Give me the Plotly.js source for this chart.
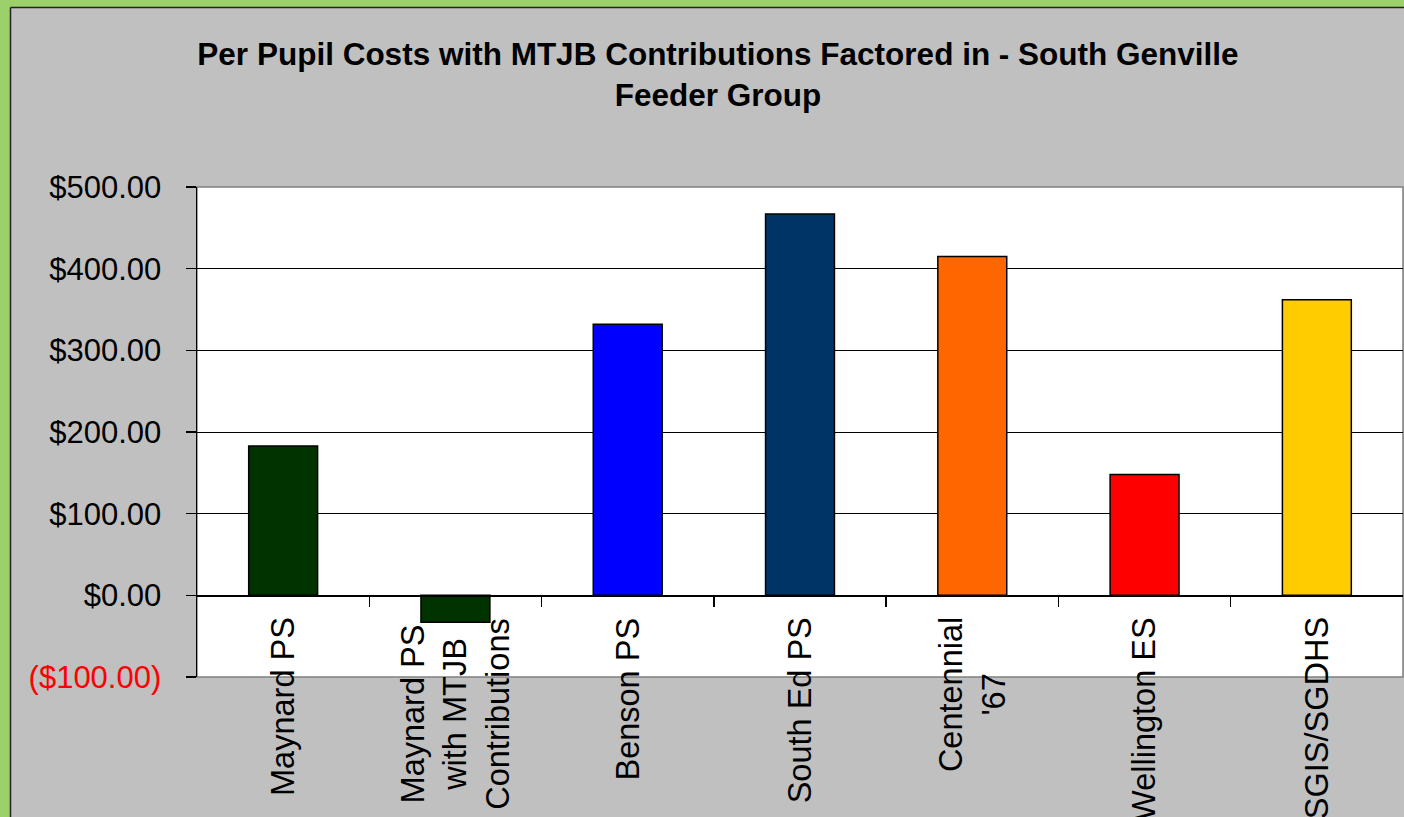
<!DOCTYPE html>
<html>
<head>
<meta charset="utf-8">
<script src="https://cdn.plot.ly/plotly-3.0.1.min.js"></script>
<style>html,body{margin:0;padding:0;background:#C0C0C0;}#chart{width:1404px;height:817px;}</style>
</head>
<body>
<div id="chart"></div>
<script>
const categories = ["Maynard PS", "Maynard PS<br>with MTJB<br>Contributions", "Benson PS", "South Ed PS", "Centennial<br>'67", "Wellington ES", "SGIS/SGDHS"];
const values = [183, -33, 332, 467, 415, 148, 362];
const barColors = ["#003300", "#003300", "#0000FF", "#003366", "#FF6600", "#FF0000", "#FFCC00"];
const yTickVals = [-100, 0, 100, 200, 300, 400, 500];
const yTickText = ['<span style="color:#FF0000">($100.00)</span>', "$0.00", "$100.00", "$200.00", "$300.00", "$400.00", "$500.00"];
const titleText = "Per Pupil Costs with MTJB Contributions Factored in - South Genville<br>Feeder Group";

const FONT = "Liberation Sans, Arial, sans-serif";
const xIdx = categories.map((c, i) => i);

const trace = {
  type: "bar",
  x: xIdx,
  y: values,
  width: 0.4,
  marker: {color: barColors, line: {color: "#000000", width: 1.5}},
  hoverinfo: "skip"
};

// pixel -> paper helpers for decorative frame
const L = 197, R = 1, T = 187, B = 140, W = 1404, H = 817;
const pw = W - L - R, ph = H - T - B;
const px = v => (v - L) / pw;
const py = v => (H - B - v) / ph;

const annotations = categories.map((c, i) => ({
  x: i, y: 0, xref: "x", yref: "y",
  text: c, showarrow: false, textangle: -90,
  xanchor: "center", yanchor: "top", yshift: -20, align: "center",
  font: {family: FONT, size: 32.5, color: "#000000"}
}));

const shapes = [
  {type: "rect", xref: "paper", yref: "paper", x0: px(-5), x1: px(10), y0: py(830), y1: py(-5), fillcolor: "#9BD06A", line: {width: 0}, layer: "below"},
  {type: "rect", xref: "paper", yref: "paper", x0: px(-5), x1: px(1410), y0: py(7), y1: py(-5), fillcolor: "#9BD06A", line: {width: 0}, layer: "below"},
  {type: "line", xref: "paper", yref: "paper", x0: px(10.5), x1: px(10.5), y0: py(830), y1: py(7.5), line: {color: "#222222", width: 1.5}, layer: "below"},
  {type: "line", xref: "paper", yref: "paper", x0: px(10.5), x1: px(1410), y0: py(7.5), y1: py(7.5), line: {color: "#222222", width: 1.5}, layer: "below"},
  {type: "rect", xref: "paper", yref: "paper", x0: 0, x1: 1, y0: 0, y1: 1, line: {color: "#808080", width: 1.5}, layer: "below"}
];

const layout = {
  width: W, height: H,
  margin: {l: L, r: R, t: T, b: B, pad: 0},
  paper_bgcolor: "#C0C0C0",
  plot_bgcolor: "#FFFFFF",
  showlegend: false,
  font: {family: FONT, color: "#000000"},
  title: {
    text: titleText,
    font: {family: FONT, size: 31.5, color: "#000000", weight: "bold"},
    xref: "container", yref: "container",
    x: 718 / W, xanchor: "center",
    y: 1 - 65 / H, yanchor: "middle"
  },
  xaxis: {
    type: "linear",
    range: [-0.5, categories.length - 0.5],
    anchor: "free", position: 100 / 600,
    tickmode: "array",
    tickvals: xIdx.slice(0, -1).map(i => i + 0.5),
    ticks: "outside", ticklen: 10, tickwidth: 1.5, tickcolor: "#000000",
    showticklabels: false,
    showline: true, linecolor: "#000000", linewidth: 1.5,
    showgrid: false, zeroline: false, fixedrange: true
  },
  yaxis: {
    range: [-100, 500],
    domain: [0, 1],
    tickmode: "array",
    tickvals: yTickVals, ticktext: yTickText,
    ticks: "outside", ticklen: 10, tickwidth: 1.5, tickcolor: "#000000",
    ticklabelstandoff: 18,
    tickfont: {family: FONT, size: 31, color: "#000000"},
    showline: true, linecolor: "#000000", linewidth: 1.5,
    showgrid: true, gridcolor: "#000000", gridwidth: 1,
    zeroline: true, zerolinecolor: "#000000", zerolinewidth: 1.5,
    fixedrange: true
  },
  annotations: annotations,
  shapes: shapes
};

Plotly.newPlot("chart", [trace], layout, {displayModeBar: false, staticPlot: true});
</script>
</body>
</html>
